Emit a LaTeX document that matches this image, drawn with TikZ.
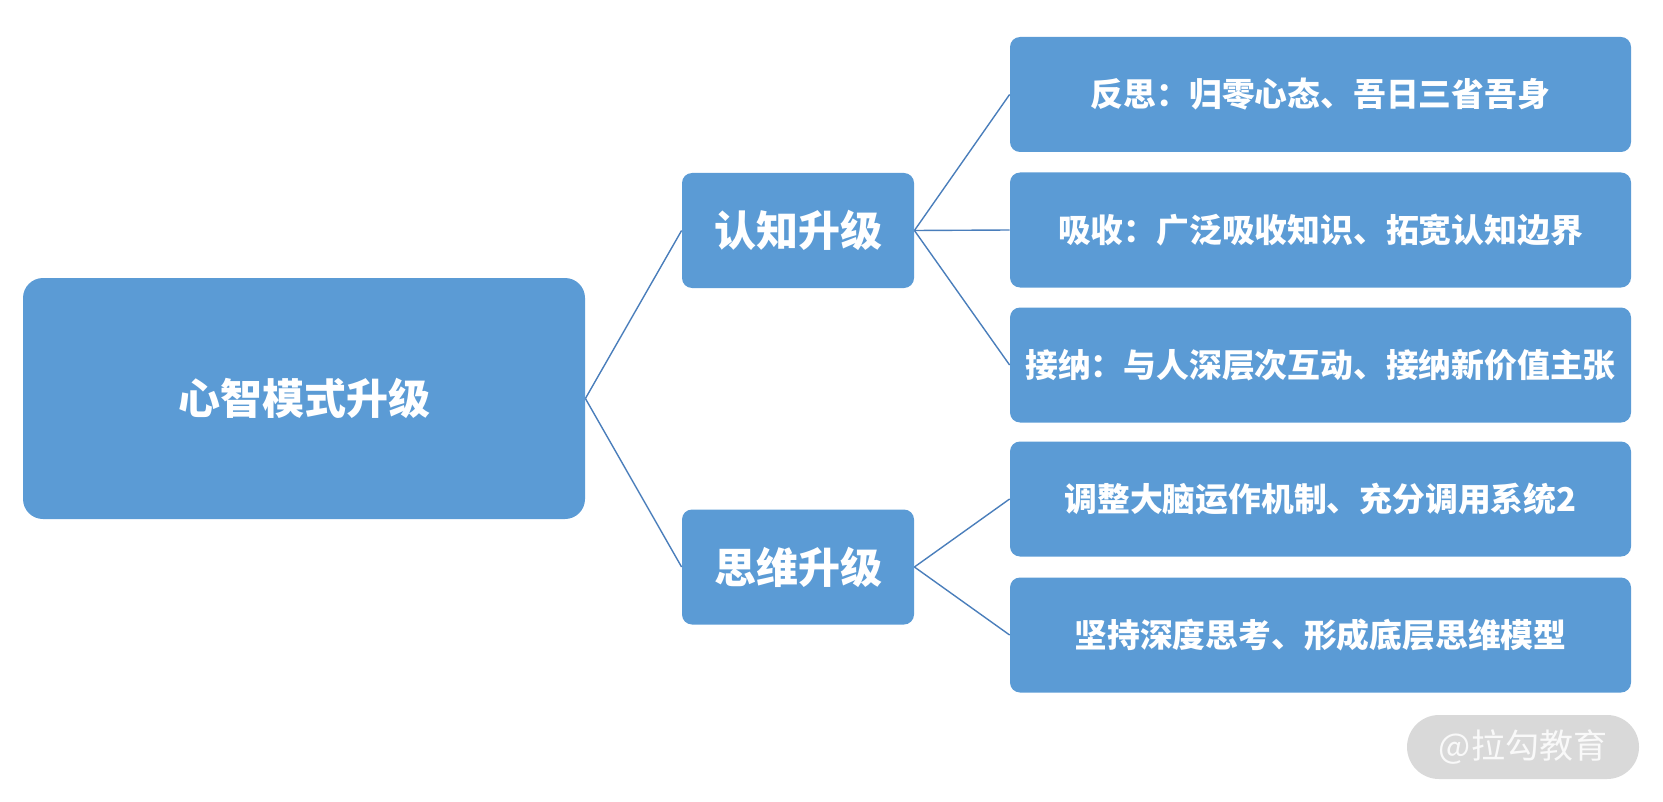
\documentclass[tikz,border=0pt]{standalone}
\usepackage{fontspec}
\usepackage{tikz}
\usetikzlibrary{positioning}
\newfontfamily\cjk{Noto Sans CJK SC}

\definecolor{boxblue}{HTML}{5B9BD5}
\definecolor{lineblue}{HTML}{4A7EBB}
\definecolor{markgray}{HTML}{D9D9D9}

\begin{document}
\begin{tikzpicture}[x=0.5pt, y=-0.5pt,
    topic/.style={fill=boxblue, rounded corners=10pt, inner sep=0pt,
        minimum width=281pt, minimum height=120.5pt,
        text=white, font=\cjk\bfseries\fontsize{21}{25}\selectfont},
    branch/.style={fill=boxblue, rounded corners=5pt, inner sep=0pt,
        minimum width=116pt, minimum height=57.5pt,
        text=white, font=\cjk\bfseries\fontsize{21}{25}\selectfont},
    leaf/.style={fill=boxblue, rounded corners=5pt, inner sep=0pt,
        minimum width=310.5pt, minimum height=57.5pt,
        text=white, font=\cjk\bfseries\fontsize{16.4}{20}\selectfont},
    link/.style={draw=lineblue, line width=0.7pt}]
    \useasboundingbox (0,0) rectangle (1663,802);

    \node at (304, 398.5) [topic] (mind) {心智模式升级};

    \node at (798, 230.5) [branch] (cog) {认知升级};
    \node at (798, 567) [branch] (think) {思维升级};

    \node at (1320.5, 94.5) [leaf] (reflect) {反思：归零心态、吾日三省吾身};
    \node at (1320.5, 230) [leaf] (absorb) {吸收：广泛吸收知识、拓宽认知边界};
    \node at (1320.5, 365) [leaf] (accept) {接纳：与人深层次互动、接纳新价值主张};
    \node at (1320.5, 499) [leaf] (brain) {调整大脑运作机制、充分调用系统2};
    \node at (1320.5, 635) [leaf] (deep) {坚持深度思考、形成底层思维模型};

    \draw[link] (mind.east) -- (cog.west);
    \draw[link] (mind.east) -- (think.west);
    \draw[link] (cog.east) -- (reflect.west);
    \draw[link] (cog.east) -- (absorb.west);
    \draw[link] (cog.east) -- (accept.west);
    \draw[link] (think.east) -- (brain.west);
    \draw[link] (think.east) -- (deep.west);

    \node at (1523, 747) [fill=markgray, rounded corners=16pt, inner sep=0pt,
        minimum width=116pt, minimum height=32pt, text=white!95!gray,
        font=\cjk\fontsize{17}{20}\selectfont] (mark) {@拉勾教育};
\end{tikzpicture}
\end{document}
